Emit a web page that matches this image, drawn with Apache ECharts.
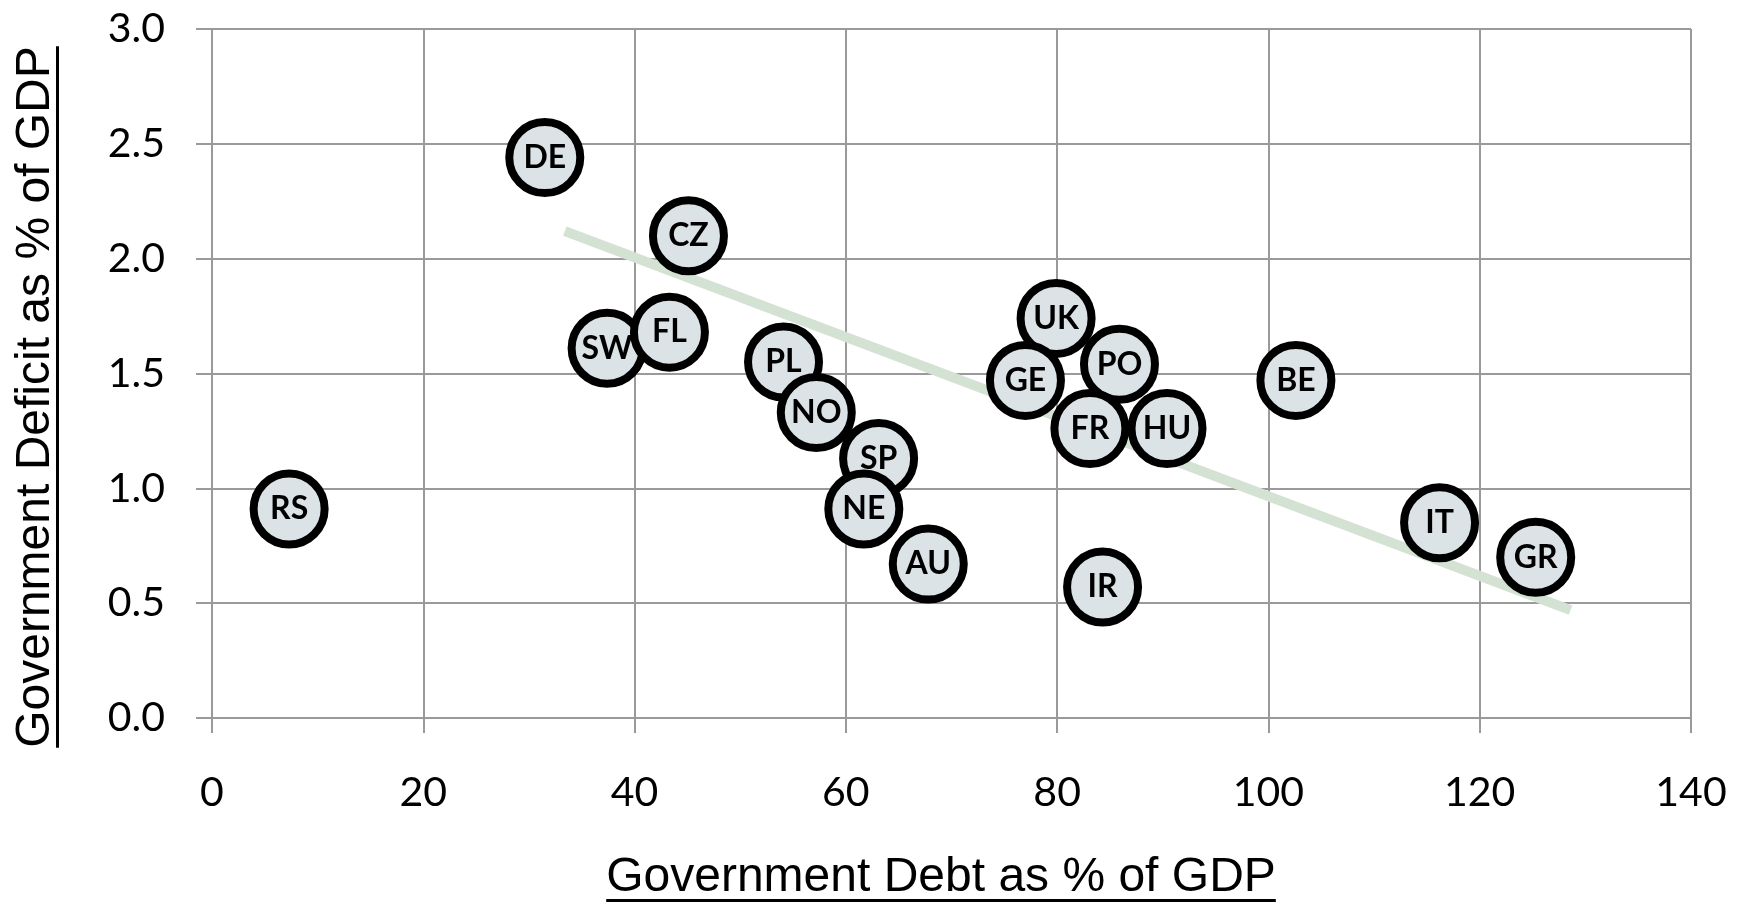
<!DOCTYPE html>
<html>
<head>
<meta charset="utf-8">
<script src="https://cdn.jsdelivr.net/npm/echarts@6/dist/echarts.min.js"></script>
<style>
html,body{margin:0;padding:0;background:#fff;}
#chart{width:1739px;height:904px;}
</style>
</head>
<body>
<div id="chart"></div>
<script>
// ---- data ----
const countries = ['DE','CZ','SW','FL','PL','NO','SP','NE','AU','RS','UK','GE','PO','FR','HU','BE','IR','IT','GR'];
const debtPct    = [31.5, 45.1, 37.4, 43.3, 54.1, 57.2, 63.1, 61.7, 67.8, 7.3, 79.9, 77.0, 85.9, 83.1, 90.4, 102.6, 84.3, 116.2, 125.3];
const deficitPct = [2.44, 2.10, 1.61, 1.68, 1.55, 1.33, 1.13, 0.91, 0.67, 0.91, 1.74, 1.47, 1.54, 1.26, 1.26, 1.47, 0.57, 0.85, 0.70];
// fitted trend line end points (as drawn)
const trendX = [33.4, 128.6];
const trendY = [2.12, 0.47];
// axis ticks
const xTicks = [0, 20, 40, 60, 80, 100, 120, 140];
const yTicks = [0.0, 0.5, 1.0, 1.5, 2.0, 2.5, 3.0];
const xTitle = 'Government Debt as % of GDP';
const yTitle = 'Government Deficit as % of GDP';

// ---- build ----
const points = countries.map((c, i) => [debtPct[i], deficitPct[i], c]);
const trend = trendX.map((x, i) => [x, trendY[i]]);

const titleFont = '48px "Liberation Sans", Arial, sans-serif';
const mc = document.createElement('canvas').getContext('2d');
mc.font = titleFont;
const wX = mc.measureText(xTitle).width;
const wY = mc.measureText(yTitle).width;

const gridColor = '#9a9a9a';
const chart = echarts.init(document.getElementById('chart'), null, {renderer: 'canvas'});

const xCenter = 941, xBase = 878;
const yCenter = 397, yMid = 36;

chart.setOption({
  animation: false,
  backgroundColor: '#fff',
  grid: {left: 212, top: 29, width: 1479, height: 689, containLabel: false},
  xAxis: {
    type: 'value',
    min: xTicks[0], max: xTicks[xTicks.length - 1], interval: xTicks[1] - xTicks[0],
    axisLine: {show: true, onZero: false, lineStyle: {color: gridColor, width: 2}},
    axisTick: {show: true, inside: false, length: 15, lineStyle: {color: gridColor, width: 2}},
    splitLine: {show: true, lineStyle: {color: gridColor, width: 2}},
    axisLabel: {margin: 54, fontFamily: 'Lato', fontSize: 41, color: '#000'}
  },
  yAxis: {
    type: 'value',
    min: yTicks[0], max: yTicks[yTicks.length - 1], interval: yTicks[1] - yTicks[0],
    axisLine: {show: true, onZero: false, lineStyle: {color: gridColor, width: 2}},
    axisTick: {show: true, inside: false, length: 16, lineStyle: {color: gridColor, width: 2}},
    splitLine: {show: true, lineStyle: {color: gridColor, width: 2}},
    axisLabel: {margin: 47, fontFamily: 'Lato', fontSize: 41, color: '#000',
      formatter: v => v.toFixed(1)}
  },
  series: [
    {
      type: 'line',
      data: trend,
      showSymbol: false,
      symbol: 'none',
      z: 2,
      silent: true,
      lineStyle: {color: '#d4e2d3', width: 10, cap: 'butt'}
    },
    {
      type: 'scatter',
      data: points,
      symbol: 'circle',
      symbolSize: 71,
      z: 3,
      itemStyle: {color: '#dce3e6', borderColor: '#000', borderWidth: 8, opacity: 1},
      label: {
        show: true, position: 'inside',
        formatter: p => p.data[2],
        fontFamily: 'Lato', fontWeight: 'bold', fontSize: 32, color: '#000'
      }
    }
  ],
  graphic: [
    {type: 'text', x: xCenter, y: xBase, silent: true,
     style: {text: xTitle, font: titleFont, fill: '#000', align: 'center', verticalAlign: 'middle'}},
    {type: 'rect', silent: true, shape: {x: xCenter - wX / 2, y: 899, width: wX, height: 3},
     style: {fill: '#000'}},
    {type: 'text', x: yMid, y: yCenter, rotation: Math.PI / 2, silent: true,
     style: {text: yTitle, font: titleFont, fill: '#000', align: 'center', verticalAlign: 'middle'}},
    {type: 'rect', silent: true, shape: {x: 56, y: yCenter - wY / 2, width: 3, height: wY},
     style: {fill: '#000'}}
  ]
});
</script>
</body>
</html>
